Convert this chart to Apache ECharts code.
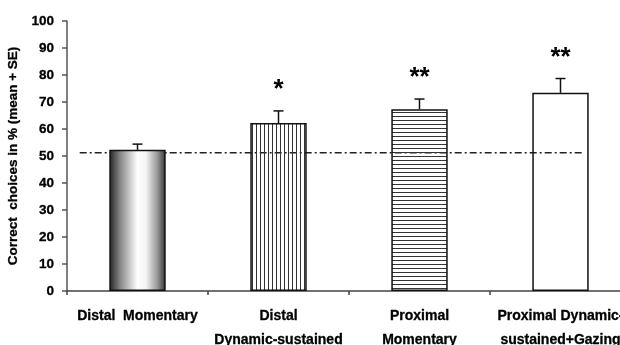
<!DOCTYPE html>
<html><head><meta charset="utf-8">
<script src="https://cdn.jsdelivr.net/npm/echarts@6/dist/echarts.min.js"></script>
<style>html,body{margin:0;padding:0;background:#fff}#c{width:620px;height:345px}</style>
</head><body><div id="c"></div>
<script>
var categories = ['Distal  Momentary', 'Distal\nDynamic-sustained', 'Proximal\nMomentary', 'Proximal Dynamic-\nsustained+Gazing'];
var means = [52.3, 62.2, 67.3, 73.4];
var se = [2.1, 4.5, 3.8, 5.3];
var stars = ['', '*', '**', '**'];
var chanceLevel = 51.2;
var yTicks = [0, 100, 10];

function stripes(vertical) {
  var c = document.createElement('canvas');
  c.width = 4; c.height = 4;
  var g = c.getContext('2d');
  g.fillStyle = '#333';
  if (vertical) g.fillRect(0, 0, 1, 4); else g.fillRect(0, 0, 4, 1);
  return c;
}
var font = '"Liberation Sans", Arial, sans-serif';
var fills = [
  {type: 'linear', x: 0, y: 0, x2: 1, y2: 0, colorStops: [
    {offset: 0, color: '#222'}, {offset: 0.2, color: '#8a8a8a'}, {offset: 0.5, color: '#fff'},
    {offset: 0.65, color: '#f4f4f4'}, {offset: 0.85, color: '#999'}, {offset: 1, color: '#333'}]},
  {image: stripes(true), repeat: 'repeat'},
  {image: stripes(false), repeat: 'repeat'},
  'rgba(255,255,255,0)'
];

var chart = echarts.init(document.getElementById('c'), null, {renderer: 'canvas'});
chart.setOption({
  animation: false,
  backgroundColor: '#fff',
  grid: {left: 67, width: 564, top: 21, bottom: 54, containLabel: false, outerBoundsMode: 'none'},
  xAxis: {
    type: 'category', data: categories,
    axisLine: {lineStyle: {color: '#444', width: 1.5}},
    axisTick: {show: true, length: 4, lineStyle: {color: '#444', width: 1.5}},
    axisLabel: {color: '#000', fontFamily: font, fontWeight: 'bold', fontSize: 14, lineHeight: 24, margin: 13, interval: 0,
      textBorderColor: '#000', textBorderWidth: 0.3}
  },
  yAxis: {
    type: 'value', min: yTicks[0], max: yTicks[1], interval: yTicks[2],
    name: 'Correct  choices in % (mean + SE)', nameLocation: 'middle', nameGap: 35,
    nameTextStyle: {color: '#000', fontFamily: font, fontWeight: 'bold', fontSize: 13.5, textBorderColor: '#000', textBorderWidth: 0.3},
    axisLine: {show: true, lineStyle: {color: '#555', width: 1.5}},
    axisTick: {show: true, length: 5, lineStyle: {color: '#555', width: 1.5}},
    axisLabel: {color: '#000', fontFamily: font, fontWeight: 'bold', fontSize: 13.5, margin: 13, textBorderColor: '#000', textBorderWidth: 0.3},
    splitLine: {show: false}
  },
  series: [
    {
      type: 'custom', z: 1, silent: true,
      data: [[0, chanceLevel]],
      renderItem: function (params, api) {
        var bw = api.size([1, 0])[0];
        var y = api.coord([0, api.value(1)])[1];
        var x1 = api.coord([0, 0])[0] - 0.41 * bw;
        var x2 = api.coord([categories.length - 1, 0])[0] + 0.155 * bw;
        return {type: 'line', shape: {x1: x1, y1: y, x2: x2, y2: y},
          style: {stroke: '#222', lineWidth: 1.6, lineDash: [7, 3, 2, 3]}};
      }
    },
    {
      type: 'bar', z: 2, barWidth: '40%',
      data: means.map(function (v, i) {
        return {value: v, itemStyle: {color: fills[i], borderColor: '#111', borderWidth: 1.5}};
      })
    },
    {
      type: 'custom', z: 3, silent: true,
      data: means.map(function (v, i) { return [i, v, v + se[i]]; }),
      renderItem: function (params, api) {
        var i = api.value(0);
        var p0 = api.coord([i, api.value(1)]);
        var p1 = api.coord([i, api.value(2)]);
        var cap = 5;
        return {type: 'group', children: [
          {type: 'line', shape: {x1: p0[0], y1: p0[1], x2: p1[0], y2: p1[1]}, style: {stroke: '#111', lineWidth: 1.5}},
          {type: 'line', shape: {x1: p1[0] - cap, y1: p1[1], x2: p1[0] + cap, y2: p1[1]}, style: {stroke: '#111', lineWidth: 1.5}},
          {type: 'text', x: p1[0], y: p1[1] - 34, style: {text: stars[i], fill: '#000', font: 'bold 26px ' + font, textAlign: 'center', textVerticalAlign: 'top'}}
        ]};
      }
    }
  ]
});
</script></body></html>
